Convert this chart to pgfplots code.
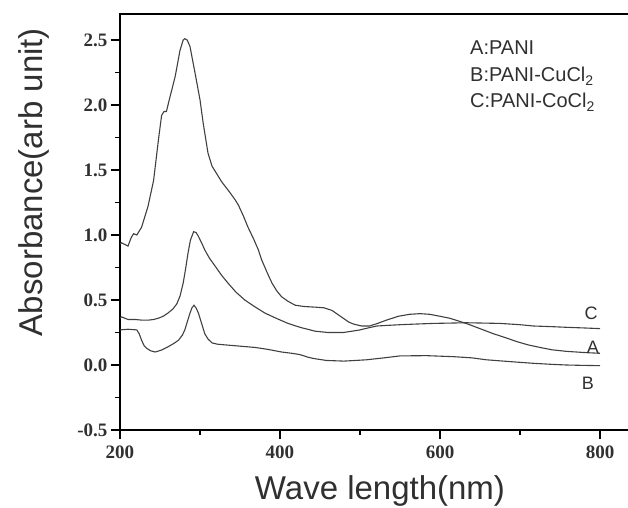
\documentclass[border=0pt]{standalone}
\usepackage{fontspec}
\setmainfont{Liberation Sans}
\newfontfamily\tickfont{Liberation Serif}
\usepackage{pgfplots}
\pgfplotsset{compat=1.18}
\definecolor{curve}{HTML}{404040}
\definecolor{txt}{HTML}{303030}
\pgfplotstableread{
x y
200 0.93
202 0.94
210 0.915
214 0.98
217 1.01
221 1.00
227 1.06
235 1.22
242 1.42
248 1.73
252 1.92
255 1.95
258 1.95
262 2.05
269 2.22
275 2.42
279 2.50
281 2.51
284 2.50
287.5 2.45
294 2.24
300 2.04
304 1.86
310 1.63
315 1.53
319 1.49
327 1.41
337 1.33
344 1.27
348 1.23
354 1.15
360 1.06
367 0.97
373 0.885
377 0.81
384 0.71
390 0.63
396 0.57
402 0.525
410 0.49
419 0.46
430 0.45
444 0.445
455 0.44
465 0.42
472 0.39
479 0.36
486 0.33
492 0.315
502 0.30
512 0.30
522 0.32
533 0.345
548 0.375
562 0.39
575 0.395
587 0.39
600 0.375
612 0.36
625 0.335
637 0.31
652 0.275
667 0.24
682 0.21
696 0.18
710 0.155
725 0.135
740 0.117
758 0.105
783 0.095
800 0.09
}\dataA
\pgfplotstableread{
x y
200 0.27
210 0.275
221 0.27
224 0.24
227 0.19
230 0.15
233 0.13
238 0.11
244 0.10
252 0.115
260 0.14
267 0.165
273 0.19
278 0.23
281 0.27
284 0.33
287.5 0.40
290 0.44
292.5 0.46
295 0.44
298 0.40
302 0.32
306 0.24
310 0.20
315 0.17
322 0.16
331 0.155
350 0.145
369 0.135
385 0.12
402 0.10
415 0.09
425 0.08
435 0.06
442 0.05
458 0.035
480 0.03
508 0.04
530 0.055
550 0.07
583 0.072
617 0.064
640 0.055
658 0.04
690 0.025
717 0.013
740 0.005
758 0.0
780 -0.003
800 -0.005
}\dataB
\pgfplotstableread{
x y
200 0.36
202 0.37
210 0.35
219 0.35
228 0.345
235 0.345
242 0.35
248 0.36
254 0.375
260 0.40
266 0.43
271 0.47
275 0.53
279 0.63
282 0.74
285 0.86
288 0.96
292 1.025
295 1.02
298 0.99
302 0.94
306 0.885
312 0.82
319 0.76
327 0.69
335 0.63
345 0.56
356 0.50
368 0.45
381 0.40
395 0.36
410 0.32
425 0.29
444 0.26
460 0.25
479 0.25
490 0.26
500 0.27
510 0.285
521 0.30
535 0.305
550 0.31
570 0.315
592 0.32
633 0.325
675 0.32
700 0.31
717 0.30
740 0.295
758 0.29
780 0.285
800 0.28
}\dataC
\begin{document}
\begin{tikzpicture}
\begin{axis}[
  scale only axis, width=520pt, height=416pt,
  xmin=200, xmax=850, ymin=-0.5, ymax=2.7,
  xtick={200,400,600,800},
  ytick={-0.5,0,0.5,1,1.5,2,2.5},
  minor x tick num=1, minor y tick num=1,
  tick align=outside, tick pos=left,
  major tick length=9pt, minor tick length=5pt,
  axis line style={line width=1.6pt},
  tick style={line width=1.4pt, black},
  /pgf/number format/assume math mode=true,
  yticklabel style={/pgf/number format/.cd, fixed, fixed zerofill, precision=1},
  xticklabel style={yshift=-3pt, /pgf/number format/.cd, fixed, precision=0},
  ticklabel style={font=\tickfont\bfseries\fontsize{19}{19}\selectfont, text=txt},
  xlabel={Wave length(nm)}, ylabel={Absorbance(arb unit)},
  label style={font=\fontsize{33}{33}\selectfont, text=txt},
  xlabel style={at={(axis description cs:0.5,-0.168)}, anchor=base},
  ylabel style={at={(axis description cs:-0.15,0.596)}, anchor=base},
]
\coordinate (O) at (rel axis cs:0,0);
\addplot[curve, line width=1.1pt] table[x=x,y=y] {\dataA};
\addplot[curve, line width=1.1pt] table[x=x,y=y] {\dataB};
\addplot[curve, line width=1.1pt] table[x=x,y=y] {\dataC};
\node[anchor=base west, inner sep=0pt, font=\fontsize{20}{20}\selectfont, text=txt] at (axis cs:637.5,2.385) {A:PANI};
\node[anchor=base west, inner sep=0pt, font=\fontsize{20}{20}\selectfont, text=txt] at (axis cs:637.5,2.177) {B:PANI-CuCl\textsubscript{2}};
\node[anchor=base west, inner sep=0pt, font=\fontsize{20}{20}\selectfont, text=txt] at (axis cs:637.5,1.977) {C:PANI-CoCl\textsubscript{2}};
\node[anchor=base, inner sep=0pt, font=\fontsize{18}{18}\selectfont, text=txt] at (axis cs:789,0.352) {C};
\node[anchor=base, inner sep=0pt, font=\fontsize{18}{18}\selectfont, text=txt] at (axis cs:791,0.085) {A};
\node[anchor=base, inner sep=0pt, font=\fontsize{18}{18}\selectfont, text=txt] at (axis cs:785,-0.192) {B};
\end{axis}
\pgfresetboundingbox
\useasboundingbox (O) ++(-120pt,-77pt) rectangle ++(628pt,507pt);
\end{tikzpicture}
\end{document}
